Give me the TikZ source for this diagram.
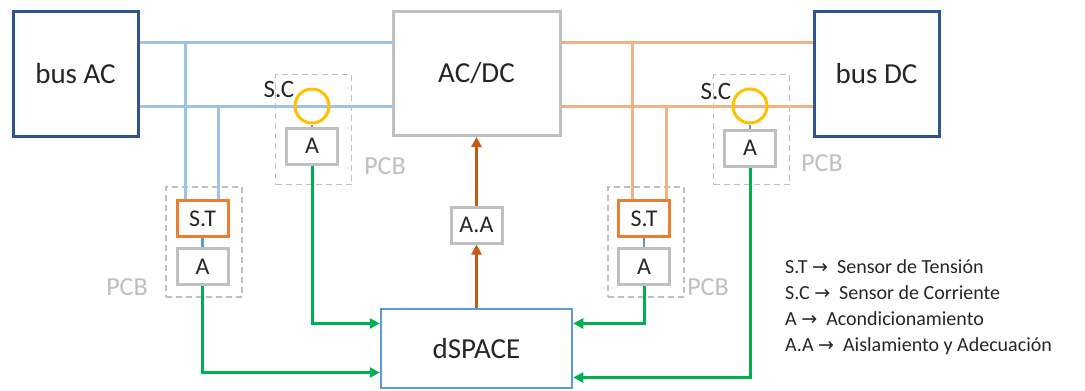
\documentclass[tikz,border=0pt]{standalone}
\usepackage{fontspec}
\setmainfont{Carlito}
\newfontfamily\arrfont{DejaVu Sans}
\usetikzlibrary{arrows.meta}
\definecolor{busblue}{RGB}{47,85,140}
\definecolor{boxgray}{RGB}{191,191,191}
\definecolor{acline}{RGB}{157,195,230}
\definecolor{dcline}{RGB}{244,177,131}
\definecolor{storange}{RGB}{237,125,49}
\definecolor{scyellow}{RGB}{255,192,0}
\definecolor{siggreen}{RGB}{0,176,80}
\definecolor{dsblue}{RGB}{91,155,213}
\definecolor{aaorange}{RGB}{197,90,17}
\definecolor{txtgray}{RGB}{38,38,38}
\newcommand{\legarrow}{{\arrfont\fontsize{19}{22}\selectfont →}}

\begin{document}
\begin{tikzpicture}[x=1pt,y=-1pt,
  busbox/.style={draw=busblue, line width=3pt, minimum width=125pt, minimum height=125pt, inner sep=0pt, text=txtgray, font=\fontsize{29}{33}\selectfont},
  convbox/.style={draw=boxgray, line width=3pt, minimum width=167pt, minimum height=124pt, inner sep=0pt, text=txtgray, font=\fontsize{29}{33}\selectfont},
  dspbox/.style={draw=dsblue, line width=2.5pt, minimum width=191pt, minimum height=79pt, inner sep=0pt, text=txtgray, font=\fontsize{29}{33}\selectfont},
  abox/.style={draw=boxgray, line width=3pt, minimum width=51pt, minimum height=36pt, inner sep=0pt, text=txtgray, font=\fontsize{24}{28}\selectfont},
  stbox/.style={abox, draw=storange},
  scring/.style={circle, draw=scyellow, line width=3pt, minimum size=34pt, inner sep=0pt},
  pcbbox/.style={draw=boxgray, dashed, dash pattern=on 6pt off 4pt, line width=1.3pt, minimum width=76pt, minimum height=110pt, inner sep=0pt},
  pcblabel/.style={text=boxgray, font=\fontsize{26}{30}\selectfont, inner sep=0pt},
  sclabel/.style={text=txtgray, font=\fontsize{25}{28}\selectfont, inner sep=0pt},
  acwire/.style={draw=acline, line width=3pt},
  dcwire/.style={draw=dcline, line width=3pt},
  tap/.style={draw=dsblue, line width=2.5pt},
  sig/.style={draw=siggreen, line width=3pt, -{Triangle[length=10pt,width=10pt]}},
  ctl/.style={draw=aaorange, line width=3pt, -{Triangle[length=10pt,width=10pt]}},
  legend/.style={align=left, inner sep=0pt, text=txtgray, font=\fontsize{20}{26}\selectfont}]
\path[use as bounding box] (0,0) rectangle (1085,391);

\node[pcbbox] (pcbstl) at (204,242) {};
\node[pcbbox] (pcbscl) at (313.5,129.5) {};
\node[pcbbox] (pcbstr) at (646,242) {};
\node[pcbbox] (pcbscr) at (751.5,129.5) {};

\node[busbox] (busac) at (75.5,73.5) {bus AC};
\node[busbox] (busdc) at (876.5,73.5) {bus DC};
\node[convbox] (acdc) at (476.5,73.5) {AC/DC};
\node[dspbox] (dspace) at (476.5,348.5) {dSPACE};
\node[abox] (aa) at (476.5,225) {A.A};

\node[stbox] (stl) at (202.5,218.5) {S.T};
\node[abox] (al) at (202.5,266.5) {A};
\node[stbox] (str) at (644,218.5) {S.T};
\node[abox] (ar) at (644,266.5) {A};

\node[abox] (acl) at (312,146) {A};
\node[abox] (acr) at (750,148) {A};

\node[pcblabel] (pcbl1) at (127,287) {PCB};
\node[pcblabel] (pcbl2) at (385,166) {PCB};
\node[pcblabel] (pcbl3) at (708,287) {PCB};
\node[pcblabel] (pcbl4) at (822,163) {PCB};

\coordinate (wtop) at (0,42);
\coordinate (wbot) at (0,106);
\coordinate (acv1) at (185,42);
\coordinate (acv2) at (218,106);
\coordinate (dcv1) at (632,42);
\coordinate (dcv2) at (666,106);

\draw[acwire] (busac.east |- wtop) -- (acdc.west |- wtop);
\draw[acwire] (busac.east |- wbot) -- (acdc.west |- wbot);
\draw[acwire] (acv1) -- (acv1 |- stl.north);
\draw[acwire] (acv2) -- (acv2 |- stl.north);
\draw[dcwire] (acdc.east |- wtop) -- (busdc.west |- wtop);
\draw[dcwire] (acdc.east |- wbot) -- (busdc.west |- wbot);
\draw[dcwire] (dcv1) -- (dcv1 |- str.north);
\draw[dcwire] (dcv2) -- (dcv2 |- str.north);

\node[scring] (scl) at (312,106) {};
\node[scring] (scr) at (750,106) {};
\node[sclabel] (scll) at (279,89) {S.C};
\node[sclabel] (sclr) at (716,91) {S.C};

\draw[tap] (scl.south) -- (acl.north);
\draw[tap] (scr.south) -- (acr.north);
\draw[tap] (stl.south) -- (al.north);
\draw[tap] (str.south) -- (ar.north);

\draw[sig] (al.south) |- ([yshift=-24pt]dspace.west);
\draw[sig] (acl.south) |- ([yshift=25pt]dspace.west);
\draw[sig] (ar.south) |- ([yshift=25pt]dspace.east);
\draw[sig] (acr.south) |- ([yshift=-29pt]dspace.east);

\draw[ctl] (dspace.north) -- (aa.south);
\draw[ctl] (aa.north) -- (acdc.south);

\node[legend, anchor=north west] (leg) at (785,259) {S.T \legarrow\ \ Sensor de Tensión\\
S.C \legarrow\ \ Sensor de Corriente\\
A \legarrow\ \ Acondicionamiento\\
A.A \legarrow\ \ Aislamiento y Adecuación};
\end{tikzpicture}
\end{document}
